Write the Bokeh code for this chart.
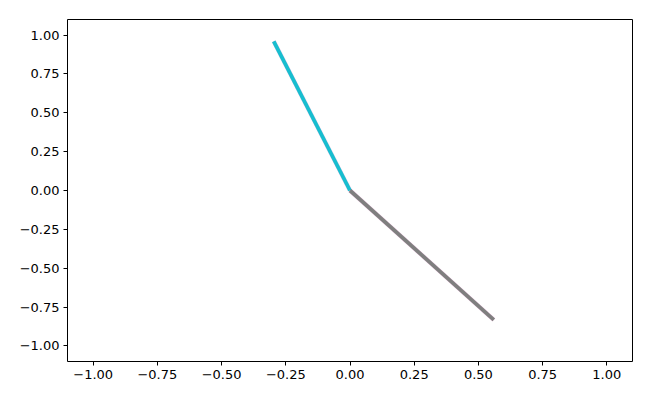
from bokeh.plotting import figure
from bokeh.models import FixedTicker, CustomJSTickFormatter, Range1d
from bokeh.embed import file_html
from bokeh.resources import INLINE

# segment end points (segments start at the origin)
seg_x = [-0.297, 0.56]
seg_y = [0.96, -0.832]
# colours drawn underneath, then on top
under_colors = ["#e377c2", "#e377c2"]
top_colors = ["#17becf", "#7f7f7f"]
ticks = [-1.0, -0.75, -0.5, -0.25, 0.0, 0.25, 0.5, 0.75, 1.0]

p = figure(width=640, height=390, output_backend="svg", toolbar_location=None,
           x_range=Range1d(-1.1, 1.1), y_range=Range1d(-1.1, 1.1),
           min_border_left=67, min_border_right=8, min_border_top=19, min_border_bottom=29)
p.xgrid.visible = False
p.ygrid.visible = False
p.outline_line_color = "black"
p.outline_line_width = 1

for i in range(len(seg_x)):
    p.line([0, seg_x[i]], [0, seg_y[i]], line_color=under_colors[i], line_width=4.4, line_alpha=0.35)
for i in range(len(seg_x)):
    p.line([0, seg_x[i]], [0, seg_y[i]], line_color=top_colors[i], line_width=3.8)

fmt = CustomJSTickFormatter(code="return (tick < -1e-9 ? '\u2212' : '') + Math.abs(tick).toFixed(2);")
for ax in (p.xaxis, p.yaxis):
    ax.ticker = FixedTicker(ticks=ticks)
    ax.formatter = fmt
    ax.axis_line_color = None
    ax.major_tick_in = 0
    ax.major_tick_out = 4
    ax.minor_tick_line_color = None
    ax.major_label_text_font = "DejaVu Sans"
    ax.major_label_text_font_size = "13px"
    ax.major_label_text_color = "black"
    ax.major_tick_line_color = "black"
p.xaxis.major_label_standoff = 4
p.yaxis.major_label_standoff = 4

open("out.html", "w").write(file_html(p, INLINE))
